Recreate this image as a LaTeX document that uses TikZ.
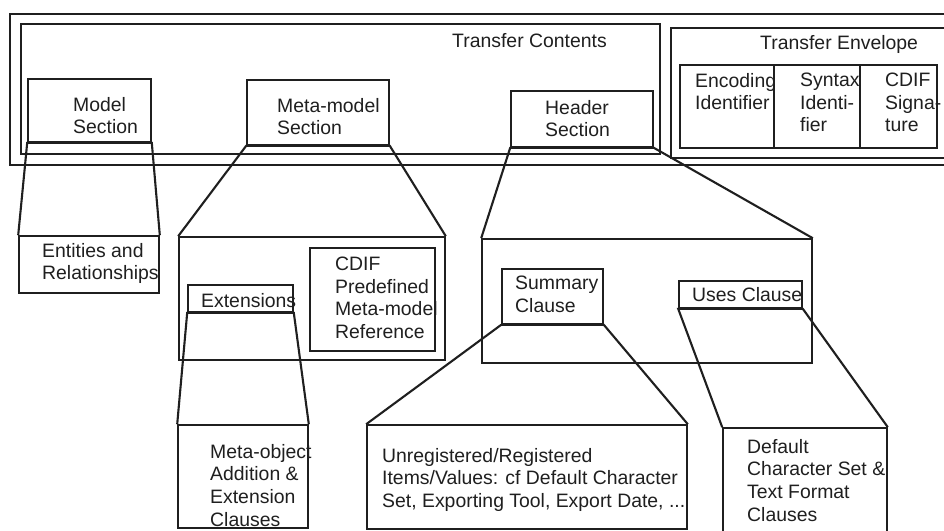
\documentclass[tikz,border=0pt]{standalone}
\usepackage{fontspec}
\setmainfont{Liberation Sans}
\begin{document}
\begin{tikzpicture}[x=1pt,y=-1pt,
  ink/.style={draw=black!88},
  box/.style={ink,line width=1.6pt,rectangle,inner sep=0pt,fill=none},
  link/.style={ink,line width=2.1pt,line join=miter},
  lbl/.style={anchor=north west,inner sep=0pt,align=left,text=black!88,
    font=\fontsize{19.4}{22.6}\selectfont}]
\useasboundingbox[fill=white] (0,0) rectangle (944,530);

% transfer frame
\node[box,minimum width=950,minimum height=151] (frame) at (485,89.5) {};
\node[box,minimum width=639,minimum height=130] (tc) at (340.5,89) {};
\node[box,minimum width=289,minimum height=130] (te) at (815.5,93) {};
\node[lbl] (tcl) at (452,33) {Transfer Contents};
\node[lbl] (tel) at (760,35) {Transfer Envelope};

% envelope fields
\node[box,minimum width=94,minimum height=83] (enc) at (727,106.5) {};
\node[box,minimum width=86,minimum height=83] (syn) at (817,106.5) {};
\node[box,minimum width=77,minimum height=83] (sig) at (898.5,106.5) {};
\node[lbl] (encl) at (695,73) {Encoding\\Identifier};
\node[lbl] (synl) at (800,73) {Syntax\\Identi-\\fier};
\node[lbl] (sigl) at (885,73) {CDIF\\Signa-\\ture};

% sections of the contents
\node[box,minimum width=123,minimum height=63] (ms) at (89.5,110.5) {};
\node[lbl] (msl) at (73,97) {Model\\Section};
\node[box,minimum width=142,minimum height=65] (mm) at (318,112.5) {};
\node[lbl] (mml) at (277,98) {Meta-model\\Section};
\node[box,minimum width=142,minimum height=56] (hs) at (582,119) {};
\node[lbl] (hsl) at (545,100) {Header\\Section};

% model section detail
\node[box,minimum width=140,minimum height=57] (er) at (89,264.5) {};
\node[lbl] (erl) at (42,243) {Entities and\\Relationships};

% meta-model section detail
\node[box,minimum width=266,minimum height=123] (mmb) at (312,298.5) {};
\node[box,minimum width=125,minimum height=103] (cdp) at (372.5,299.5) {};
\node[lbl] (cdpl) at (335,257) {CDIF\\Predefined\\Meta-model\\Reference};
\node[box,minimum width=105,minimum height=27] (ext) at (240.5,298.5) {};
\node[lbl] (extl) at (201,293) {Extensions};
\node[box,minimum width=130,minimum height=103] (mo) at (243,476.5) {};
\node[lbl] (mol) at (210,444) {Meta-object\\Addition \&\\Extension\\Clauses};

% header section detail
\node[box,minimum width=330,minimum height=124] (hb) at (647,301) {};
\node[box,minimum width=101,minimum height=55] (sc) at (552.5,296.5) {};
\node[lbl] (scl) at (515,276) {Summary\\Clause};
\node[box,minimum width=123,minimum height=27] (uc) at (740.5,294.5) {};
\node[lbl] (ucl) at (692,287) {Uses Clause};
\node[box,minimum width=320,minimum height=104] (ur) at (527,477) {};
\node[lbl] (url) at (382,448) {Unregistered/Registered\\Items/Values: cf Default Character\\Set, Exporting Tool, Export Date, ...};
\node[box,minimum width=164,minimum height=112] (dc) at (805,484) {};
\node[lbl] (dcl) at (747,439) {Default\\Character Set \&\\Text Format\\Clauses};

% expansion funnels
\draw[link] (er.north west) -- (ms.south west) -- (ms.south east) -- (er.north east);
\draw[link] (mmb.north west) -- (mm.south west) -- (mm.south east) -- (mmb.north east);
\draw[link] (hb.north west) -- (hs.south west) -- (hs.south east) -- (hb.north east);
\draw[link] (mo.north west) -- (ext.south west) -- (ext.south east) -- (mo.north east);
\draw[link] (ur.north west) -- (sc.south west) -- (sc.south east) -- (ur.north east);
\draw[link] (dc.north west) -- (uc.south west) -- (uc.south east) -- (dc.north east);
\end{tikzpicture}
\end{document}
